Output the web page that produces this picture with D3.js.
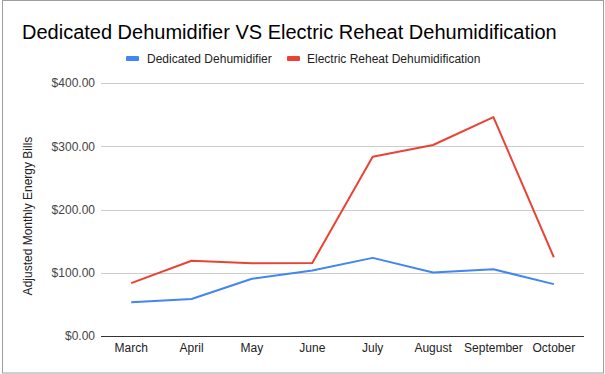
<!DOCTYPE html>
<html><head><meta charset="utf-8">
<script src="https://cdn.jsdelivr.net/npm/d3@7"></script>
<style>body{margin:0;background:#fff}svg{display:block}text{font-family:"Liberation Sans",Arial,sans-serif}</style>
</head><body>
<svg id="c" width="605" height="374"></svg>
<script>
const categories = ["March","April","May","June","July","August","September","October"];
const dedicated = [53.5, 58.5, 90.5, 103.5, 123.5, 100.5, 105.5, 82];
const reheat = [83.5, 119, 115, 115.5, 283.5, 302, 346, 124.5];
const yTicks = [0, 100, 200, 300, 400];
const seriesNames = ["Dedicated Dehumidifier", "Electric Reheat Dehumidification"];
const colors = ["#4285f4", "#ea4335"];

const svg = d3.select("#c");
svg.append("rect").attr("x",2.5).attr("y",0.5).attr("width",601).attr("height",372.5)
  .attr("fill","#fff").attr("stroke","#9e9e9e");

const x = d3.scaleBand().domain(categories).range([101, 584]);
const y = d3.scaleLinear().domain([0, 400]).range([336, 83]);

svg.append("text").attr("x",22).attr("y",39).attr("font-size",20).attr("fill","#000")
  .text("Dedicated Dehumidifier VS Electric Reheat Dehumidification");

svg.append("g").selectAll("line").data(yTicks.filter(d=>d>0)).join("line")
  .attr("x1",101).attr("x2",584).attr("y1",d=>Math.round(y(d))+0.5).attr("y2",d=>Math.round(y(d))+0.5)
  .attr("stroke","#cccccc");

const yAxis = d3.axisLeft(y).tickValues(yTicks).tickSize(0).tickPadding(0)
  .tickFormat(d=>"$"+d3.format(".2f")(d));
const gy = svg.append("g").attr("transform","translate(95,0)").call(yAxis);
gy.select(".domain").remove();
gy.selectAll("text").attr("font-size",12).attr("fill","#444").attr("font-family","Liberation Sans, Arial, sans-serif");

const xAxis = d3.axisBottom(x).tickSize(0).tickPadding(0);
const gx = svg.append("g").attr("transform","translate(0,336)").call(xAxis);
gx.select(".domain").remove();
gx.selectAll("text").attr("font-size",12).attr("fill","#222").attr("dy",null).attr("y",16)
  .attr("font-family","Liberation Sans, Arial, sans-serif");
svg.append("line").attr("x1",101).attr("x2",584).attr("y1",336.5).attr("y2",336.5).attr("stroke","#333");

svg.append("text").attr("transform","translate(32,216) rotate(-90)").attr("text-anchor","middle")
  .attr("font-size",12).attr("fill","#222").text("Adjusted Monthly Energy Bills");

const line = d3.line().x((d,i)=>x(categories[i])+x.bandwidth()/2).y(d=>y(d));
[dedicated, reheat].forEach((s,i)=>{
  svg.append("path").datum(s).attr("d",line).attr("fill","none")
    .attr("stroke",colors[i]).attr("stroke-width",2).attr("stroke-linejoin","round");
});

const lg = [{sx:126, tx:147}, {sx:287, tx:307}];
seriesNames.forEach((n,i)=>{
  svg.append("rect").attr("x",lg[i].sx).attr("y",56).attr("width",13).attr("height",5).attr("rx",1).attr("fill",colors[i]);
  svg.append("text").attr("x",lg[i].tx).attr("y",63).attr("font-size",12).attr("fill","#222").text(n);
});
</script>
</body></html>
